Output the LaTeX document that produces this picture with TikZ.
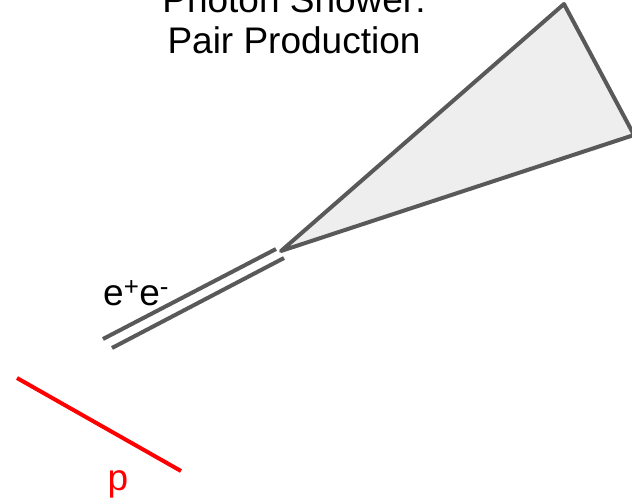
\documentclass[tikz,border=0pt]{standalone}
\usepackage{fontspec}
\setmainfont{Liberation Sans}
\usetikzlibrary{positioning}
\definecolor{trackgray}{RGB}{89,89,89}
\definecolor{conefill}{RGB}{238,238,238}
\definecolor{protonred}{RGB}{255,0,0}

\begin{document}
\begin{tikzpicture}[x=1pt,y=-1pt,every node/.style={inner sep=0pt,font=\fontsize{37}{42}\selectfont}]
\useasboundingbox (0,0) rectangle (632,501);
% Title
\node[anchor=base] (title1) at (294,12) {Photon Shower:};
\node[anchor=base] (title2) at (294,53) {Pair Production};
% Shower cone
\coordinate (apex) at (281,251);
\coordinate (tip1) at (564,4);
\coordinate (tip2) at (634,135);
\draw[trackgray, line width=4pt, fill=conefill, line join=round] (apex) -- (tip1) -- (tip2) -- cycle;
% Electron-positron pair
\coordinate (ea) at (103,339);
\coordinate (eb) at (276,249);
\coordinate (pa) at (112,348);
\coordinate (pb) at (284,258);
\draw[trackgray, line width=4pt] (ea) -- (eb);
\draw[trackgray, line width=4pt] (pa) -- (pb);
\node[anchor=base west] (ee) at (103,305) {e\textsuperscript{+}e\textsuperscript{-}};
% Proton
\coordinate (ra) at (17,378);
\coordinate (rb) at (181,471);
\draw[protonred, line width=4pt] (ra) -- (rb);
\node[protonred, anchor=base] (p) at (118,490) {p};
\end{tikzpicture}
\end{document}
